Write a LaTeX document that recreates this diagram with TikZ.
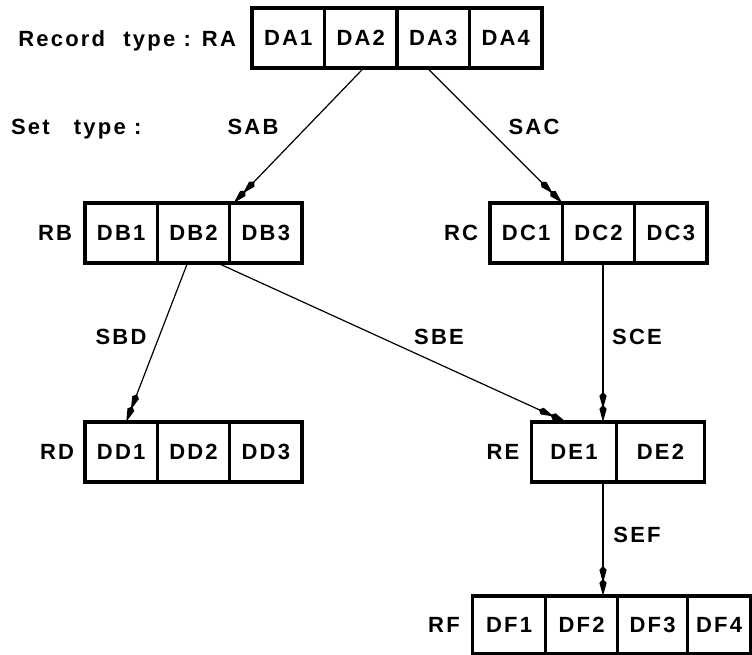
\documentclass[tikz,border=0pt]{standalone}
\usepackage{fontspec}
\newfontfamily\labfont[LetterSpace=10]{Liberation Sans}
\usetikzlibrary{arrows.meta,calc}
\tikzset{
  txt/.style={font=\labfont\bfseries\fontsize{22}{26}\selectfont, inner sep=0pt, outer sep=0pt, text height=15.7pt, text depth=0pt},
  cell/.style={txt, draw, line width=3.2pt, minimum height=60pt},
  rel/.style={line width=1.2pt, -{Stealth[length=13pt,width=6.5pt,inset=-4pt,sep=0pt] Stealth[length=13pt,width=6.5pt,inset=-4pt]}}
}
\begin{document}
\begin{tikzpicture}[x=1pt,y=-1pt]
\useasboundingbox (0,0) rectangle (752,655);
% Record RA
\node[txt, anchor=east] (ralab) at (236,39) {Record\hspace{10pt} type : RA};
\node[cell, minimum width=72.5pt] (da1) at (288.25,38) {DA1};
\node[cell, minimum width=72.5pt] (da2) at (360.75,38) {DA2};
\node[cell, minimum width=72.5pt] (da3) at (433.25,38) {DA3};
\node[cell, minimum width=72.5pt] (da4) at (505.75,38) {DA4};
\node[txt, anchor=west] (settype) at (11,127) {Set\hspace{16pt} type :};
% Record RB
\node[txt] (rblab) at (55,233) {RB};
\node[cell, minimum width=72.3pt] (db1) at (121.17,233) {DB1};
\node[cell, minimum width=72.3pt] (db2) at (193.5,233) {DB2};
\node[cell, minimum width=72.3pt] (db3) at (265.83,233) {DB3};
% Record RC
\node[txt] (rclab) at (461,233) {RC};
\node[cell, minimum width=72.3pt] (dc1) at (526.17,233) {DC1};
\node[cell, minimum width=72.3pt] (dc2) at (598.5,233) {DC2};
\node[cell, minimum width=72.3pt] (dc3) at (670.83,233) {DC3};
% Record RD
\node[txt] (rdlab) at (57,452) {RD};
\node[cell, minimum width=72.3pt] (dd1) at (121.17,452) {DD1};
\node[cell, minimum width=72.3pt] (dd2) at (193.5,452) {DD2};
\node[cell, minimum width=72.3pt] (dd3) at (265.83,452) {DD3};
% Record RE
\node[txt] (relab) at (503,452) {RE};
\node[cell, minimum width=85pt] (de1) at (574,452) {DE1};
\node[cell, minimum width=88pt] (de2) at (660.5,452) {DE2};
% Record RF
\node[txt] (rflab) at (444,625) {RF};
\node[cell, minimum width=73pt, minimum height=58pt] (df1) at (509,625) {DF1};
\node[cell, minimum width=72pt, minimum height=58pt] (df2) at (581.5,625) {DF2};
\node[cell, minimum width=70pt, minimum height=58pt] (df3) at (652.5,625) {DF3};
\node[cell, minimum width=63pt, minimum height=58pt] (df4) at (719,625) {DF4};
% Set labels
\node[txt] (sab) at (253,127) {SAB};
\node[txt] (sac) at (534,127) {SAC};
\node[txt] (sbd) at (121,337) {SBD};
\node[txt] (sbe) at (439,337) {SBE};
\node[txt] (sce) at (637,337) {SCE};
\node[txt] (sef) at (637,535) {SEF};
% Connectors
\draw[rel] ($(da2.south)+(3,0)$) -- ($(db2.north east)+(4,0)$);
\draw[rel] ($(da3.south)+(-6,0)$) -- (dc1.north east);
\draw[rel] ($(db2.south)+(-6,0)$) -- ($(dd1.north)+(5,0)$);
\draw[rel] ($(db2.south)+(24,0)$) -- ($(de1.north)+(-8,0)$);
\coordinate (sx) at ($(dc2.south)+(4.5,0)$);
\draw[rel] (sx) -- (sx |- de1.north);
\draw[rel] (sx |- de1.south) -- (sx |- df2.north);
\end{tikzpicture}
\end{document}
